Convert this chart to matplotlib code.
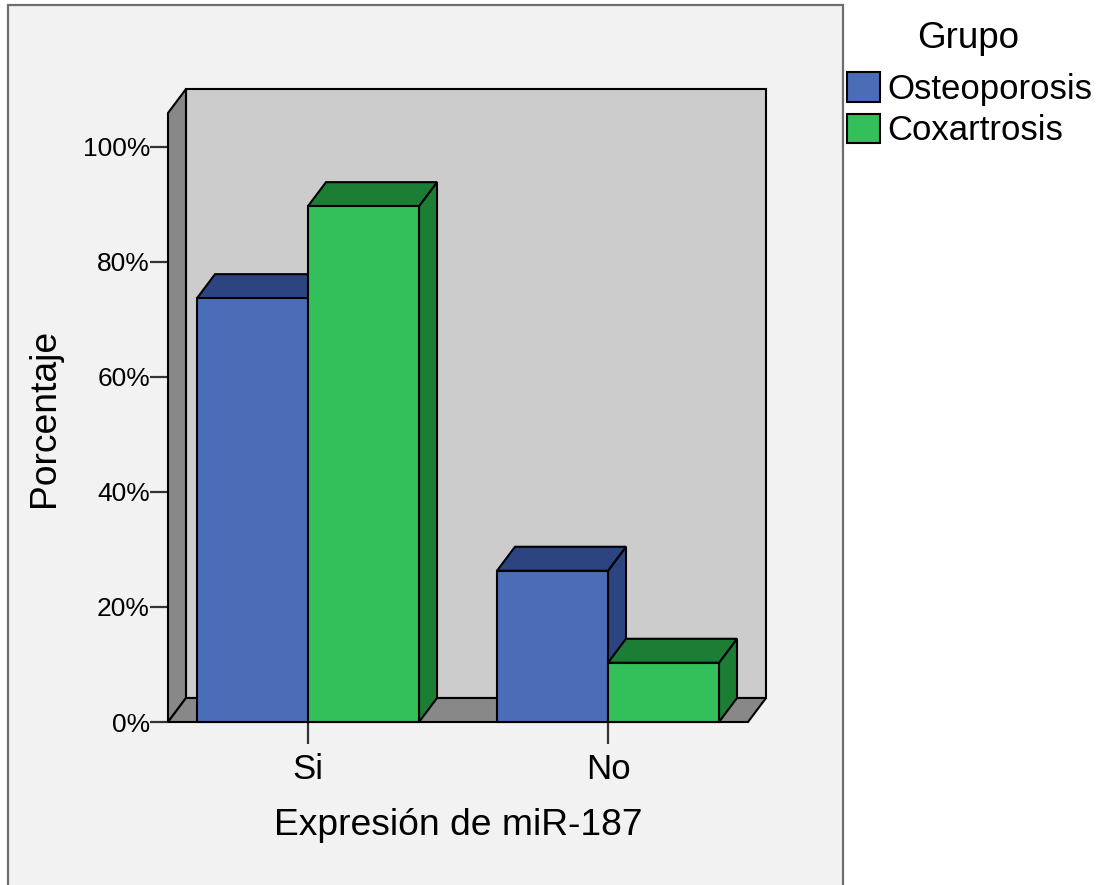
import matplotlib
matplotlib.use("Agg")
import matplotlib.pyplot as plt
from matplotlib.patches import Rectangle, Polygon, Patch

plt.rcParams["font.family"] = ["Liberation Sans", "DejaVu Sans"]

categories = ["Si", "No"]
groups = ["Osteoporosis", "Coxartrosis"]
osteoporosis = [73.7, 26.3]
coxartrosis = [89.7, 10.3]
yticks = [0, 20, 40, 60, 80, 100]
ytick_labels = ["0%", "20%", "40%", "60%", "80%", "100%"]

front_colors = ["#4b6cb7", "#33bf5a"]
dark_colors = ["#2c4480", "#1c7d35"]

W, H = 1097, 885
fig = plt.figure(figsize=(W / 100, H / 100), dpi=100, facecolor="white")

# outer chart frame
frame = Rectangle((8 / W, -0.02), (843 - 8) / W, 1.02 - 5 / H,
                  transform=fig.transFigure, facecolor="#f2f2f2",
                  edgecolor="#6e6e6e", linewidth=1.6, zorder=-10)
fig.patches.append(frame)

ax = fig.add_axes([168 / W, (H - 722) / H, (748 - 168) / W, (722 - 113) / H])
ax.set_facecolor("none")
for s in ax.spines.values():
    s.set_visible(False)

x0, x1 = -0.4667, 1.4667
top = 105.9
ax.set_xlim(x0, x1)
ax.set_ylim(0, top)

# depth offset of the 3D look, in data units
dx = 18 / 300
dy = 24 / 5.75
edge = dict(edgecolor="black", linewidth=1.5, clip_on=False)

# back wall, left wall and floor
ax.add_patch(Rectangle((x0 + dx, dy), x1 - x0, top, facecolor="#cccccc", zorder=1, **edge))
ax.add_patch(Polygon([(x0, 0), (x0, top), (x0 + dx, top + dy), (x0 + dx, dy)],
                     facecolor="#888888", zorder=2, **edge))
ax.add_patch(Polygon([(x0, 0), (x1, 0), (x1 + dx, dy), (x0 + dx, dy)],
                     facecolor="#888888", zorder=2, **edge))


def bar3d(xl, w, h, face, dark, z):
    side = [(xl + w, 0), (xl + w + dx, dy), (xl + w + dx, h + dy), (xl + w, h)]
    lid = [(xl, h), (xl + w, h), (xl + w + dx, h + dy), (xl + dx, h + dy)]
    ax.add_patch(Polygon(side, facecolor=dark, zorder=z, **edge))
    ax.add_patch(Polygon(lid, facecolor=dark, zorder=z, **edge))
    ax.add_patch(Rectangle((xl, 0), w, h, facecolor=face, zorder=z + 0.5, **edge))


bw = 0.37
z = 3
for i, cat in enumerate(categories):
    for j, vals in enumerate([osteoporosis, coxartrosis]):
        xl = i - bw + j * bw
        bar3d(xl, bw, vals[i], front_colors[j], dark_colors[j], z)
        z += 1

ax.set_yticks(yticks)
ax.set_yticklabels(ytick_labels, fontsize=19)
ax.set_xticks(range(len(categories)))
ax.set_xticklabels(categories, fontsize=25)
ax.tick_params(axis="y", length=13, width=1.6, color="#333333", pad=0)
ax.tick_params(axis="x", length=16, width=1.6, color="#333333", pad=6)

ax.set_xlabel("Expresión de miR-187", fontsize=26.8, labelpad=16)
ax.set_ylabel("Porcentaje", fontsize=26.8, labelpad=15)

fig.text(968 / W, 1 - 38 / H, "Grupo", fontsize=26.5, ha="center", va="center")
handles = [Patch(facecolor=c, edgecolor="black", linewidth=1.5) for c in front_colors]
fig.legend(handles, groups, loc="upper left",
           bbox_to_anchor=(847 / W, 1 - 72 / H), frameon=False, fontsize=25,
           handlelength=0.95, handleheight=0.95, handletextpad=0.2,
           labelspacing=0.22, borderpad=0, borderaxespad=0)

fig.savefig("out.png", dpi=100)
